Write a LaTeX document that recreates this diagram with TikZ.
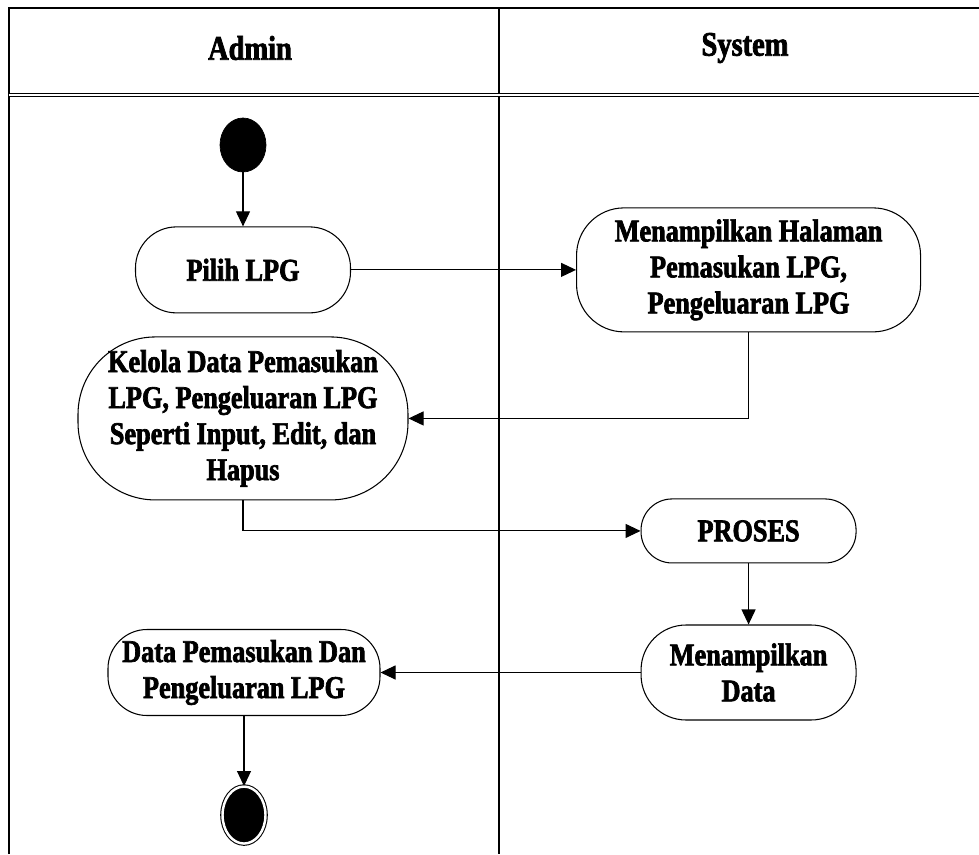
\documentclass[tikz,border=0pt]{standalone}
\usepackage{fontspec}
\setmainfont{Liberation Serif}[FakeStretch=0.83, FakeBold=2.2]
\usetikzlibrary{positioning,arrows.meta,shapes.geometric}

\begin{document}
\begin{tikzpicture}[
    node distance=1cm and 4.5cm,
    lane/.style={line width=1pt, draw=black},
    lanehead/.style={font=\fontsize{19.5}{22}\selectfont\bfseries},
    act/.style={rectangle, rounded corners=0.82cm, draw=black, line width=0.6pt, align=center, inner sep=0pt, minimum width=4.3cm, minimum height=1.72cm, font=\fontsize{18}{20.5}\selectfont\bfseries},
    start/.style={ellipse, fill=black, draw=black, inner sep=0pt, minimum width=0.92cm, minimum height=1.08cm},
    stop/.style={ellipse, fill=black, draw=black, double=white, double distance=1.4pt, line width=0.6pt, inner sep=0pt, minimum width=0.86cm, minimum height=1.14cm},
    flow/.style={-{Triangle[length=3mm, width=2.8mm]}, line width=0.6pt}
  ]
    \useasboundingbox (0,0) rectangle (19.58,-17.08);

    % swimlanes
    \draw[lane] (0.18,-17.08) -- (0.18,-0.16) -- (19.58,-0.16);
    \draw[lane] (9.98,-0.16) -- (9.98,-17.08);
    \draw[line width=0.7pt, double, double distance=1.2pt] (0.18,-1.9) -- (19.58,-1.9);
    \node[lanehead] (admin) at (5.0,-0.96) {Admin};
    \node[lanehead] (system) at (14.9,-0.96) {System};

    % activities
    \node[start] (mulai) at (4.86,-2.9) {};
    \node[act, below=1.08cm of mulai] (pilih) {Pilih LPG};
    \node[act, right=4.5cm of pilih, minimum width=6.88cm, minimum height=2.48cm, rounded corners=0.95cm] (halaman) {Menampilkan Halaman\\Pemasukan LPG,\\Pengeluaran LPG};
    \node[act, below=0.46cm of pilih, minimum width=6.6cm, minimum height=3.26cm, rounded corners=1.55cm] (kelola) {Kelola Data Pemasukan\\LPG, Pengeluaran LPG\\Seperti Input, Edit, dan\\Hapus};
    \node[act, below=3.32cm of halaman, minimum height=1.28cm, rounded corners=0.62cm] (proses) {PROSES};
    \node[act, below=1.22cm of proses, minimum height=1.9cm, rounded corners=0.9cm] (tampil) {Menampilkan\\Data};
    \node[act, left=5.2cm of tampil, minimum width=5.44cm, rounded corners=0.78cm] (hasil) {Data Pemasukan Dan\\Pengeluaran LPG};
    \node[stop, below=1.4cm of hasil] (selesai) {};

    % transitions
    \draw[flow] (mulai) -- (pilih);
    \draw[flow] (pilih) -- (halaman);
    \draw[flow] (halaman.south) |- (kelola.east);
    \draw[flow] (kelola.south) |- (proses.west);
    \draw[flow] (proses) -- (tampil);
    \draw[flow] (tampil) -- (hasil);
    \draw[flow] (hasil) -- (selesai);
  \end{tikzpicture}
\end{document}
